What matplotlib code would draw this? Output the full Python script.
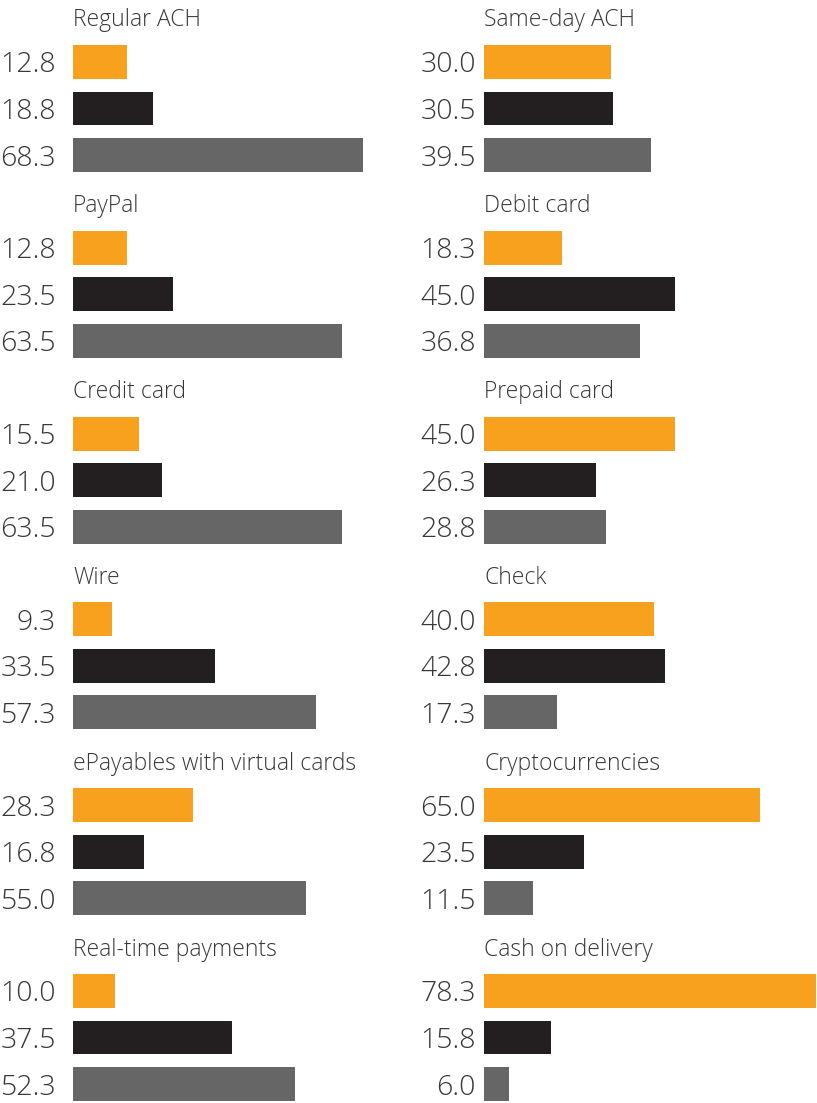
import matplotlib
matplotlib.use("Agg")
import matplotlib.pyplot as plt

# Payment methods, laid out column by column
left_methods = ["Regular ACH", "PayPal", "Credit card", "Wire",
                "ePayables with virtual cards", "Real-time payments"]
right_methods = ["Same-day ACH", "Debit card", "Prepaid card", "Check",
                 "Cryptocurrencies", "Cash on delivery"]

# Three response groups per method (orange, black, gray)
left_orange = [12.8, 12.8, 15.5, 9.3, 28.3, 10.0]
left_black = [18.8, 23.5, 21.0, 33.5, 16.8, 37.5]
left_gray = [68.3, 63.5, 63.5, 57.3, 55.0, 52.3]

right_orange = [30.0, 18.3, 45.0, 40.0, 65.0, 78.3]
right_black = [30.5, 45.0, 26.3, 42.8, 23.5, 15.8]
right_gray = [39.5, 36.8, 28.8, 17.3, 11.5, 6.0]

colors = ["#F7A11E", "#231F20", "#666666"]
text_color = "#383838"

W, H = 817, 1103
fig = plt.figure(figsize=(W / 100, H / 100), dpi=100)

family = ["Open Sans", "DejaVu Sans"]
weight = "light"

px_per_unit = 4.24          # horizontal scale shared by all panels
col_x0 = [73, 484]          # left edge of the bars in each column
label_gap = [-17, -8]       # value labels sit to the left of the bars
panel_top0 = 45             # top of the first bar in the first row
panel_pitch = 185.8         # vertical distance between rows
panel_h = 127               # from top of first bar to bottom of third bar
axes_w = 333

columns = [
    (left_methods, left_orange, left_black, left_gray),
    (right_methods, right_orange, right_black, right_gray),
]

for c, (methods, s1, s2, s3) in enumerate(columns):
    for r, name in enumerate(methods):
        top = panel_top0 + r * panel_pitch
        ax = fig.add_axes([col_x0[c] / W, (H - top - panel_h) / H,
                           axes_w / W, panel_h / H])
        vals = [s1[r], s2[r], s3[r]]
        ax.barh([0, 1, 2], vals, height=0.73, color=colors, clip_on=False)
        ax.set_xlim(0, axes_w / px_per_unit)
        ax.set_ylim(2.365, -0.365)
        ax.axis("off")
        for i, v in enumerate(vals):
            ax.annotate(f"{v:.1f}", xy=(0, i), xytext=(label_gap[c], 0),
                        textcoords="offset pixels",
                        ha="right", va="center_baseline", fontsize=20.5,
                        family=family, fontweight=weight, color=text_color)
        ax.annotate(name, xy=(0, -0.365), xytext=(0, 18.5),
                    textcoords="offset pixels", ha="left", va="baseline",
                    fontsize=16.5, family=family, fontweight=weight,
                    color=text_color)

fig.savefig("out.png", dpi=100)
